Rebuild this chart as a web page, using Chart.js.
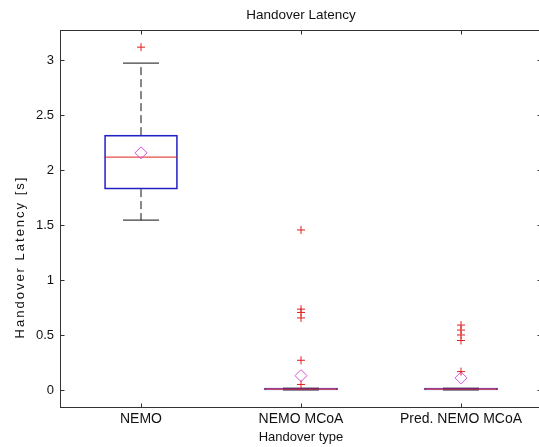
<!DOCTYPE html>
<html><head><meta charset="utf-8">
<script src="https://cdn.jsdelivr.net/npm/chart.js@4.4.1/dist/chart.umd.min.js"></script>
<style>
html,body{margin:0;padding:0;overflow:hidden;background:#fff;width:539px;height:447px}
#wrap{width:560px;height:447px;position:relative}
</style></head><body>
<div id="wrap"><canvas id="c" width="560" height="447"></canvas></div>
<script>
const categories = ['NEMO', 'NEMO MCoA', 'Pred. NEMO MCoA'];
const q1 = [1.827, 0.0, 0.0];
const median = [2.118, 0.008, 0.008];
const q3 = [2.318, 0.016, 0.016];
const whiskerLow = [1.545, 0.0, 0.0];
const whiskerHigh = [2.973, 0.016, 0.016];
const means = [2.157, 0.13, 0.11];
const outliers = [
  [3.118],
  [1.455, 0.735, 0.705, 0.655, 0.27, 0.05],
  [0.59, 0.545, 0.50, 0.45, 0.167]
];
const yTicks = [0, 0.5, 1, 1.5, 2, 2.5, 3];

const BLUE = '#2222c4', RED = '#e01e1e', MAG = '#d850d8', BLACK = '#111', AX = '#333';
const FAM = "'Liberation Sans', Arial, sans-serif";

const whiskerData = [];
categories.forEach((c, i) => {
  whiskerData.push({x: c, y: q3[i]}, {x: c, y: whiskerHigh[i]}, {x: c, y: null});
  whiskerData.push({x: c, y: q1[i]}, {x: c, y: whiskerLow[i]}, {x: c, y: null});
});
const capData = [];
categories.forEach((c, i) => { capData.push({x: c, y: whiskerLow[i]}, {x: c, y: whiskerHigh[i]}); });
const outlierData = [];
categories.forEach((c, i) => outliers[i].forEach(v => outlierData.push({x: c, y: v})));

const framePlugin = {
  id: 'frame',
  beforeDraw(chart) {
    const s = chart.scales.y;
    if (s && !s._lsPatched) {
      const orig = s.drawTitle.bind(s);
      s.drawTitle = function () {
        const c = this.ctx; c.save(); c.letterSpacing = '2px'; c.translate(0, 38); orig(); c.restore();
      };
      s._lsPatched = true;
    }
  },
  afterDatasetsDraw(chart) {
    const {ctx, chartArea: a, scales} = chart;
    ctx.save();
    ctx.strokeStyle = AX; ctx.lineWidth = 1;
    const L = Math.round(a.left) - 0.5, R = Math.round(a.right) + 0.5;
    const T = Math.round(a.top) - 0.5, B = Math.round(a.bottom) + 0.5;
    ctx.strokeRect(L, T, R - L, B - T);
    ctx.beginPath();
    yTicks.forEach(v => {
      const y = Math.round(scales.y.getPixelForValue(v)) + 0.5;
      ctx.moveTo(L, y); ctx.lineTo(L + 4, y);
      ctx.moveTo(R, y); ctx.lineTo(R - 4, y);
    });
    categories.forEach((c, i) => {
      const x = Math.round(scales.x.getPixelForValue(i)) + 0.5;
      ctx.moveTo(x, B); ctx.lineTo(x, B - 4);
      ctx.moveTo(x, T); ctx.lineTo(x, T + 4);
    });
    ctx.stroke();
    ctx.restore();
  }
};

new Chart(document.getElementById('c'), {
  type: 'bar',
  data: {
    labels: categories,
    datasets: [
      {
        type: 'line', label: 'outliers', data: outlierData, showLine: false,
        pointStyle: 'cross', pointRadius: 4, pointBorderColor: RED, pointBorderWidth: 1,
        pointBackgroundColor: RED, order: 0
      },
      {
        type: 'line', label: 'mean', data: categories.map((c, i) => ({x: c, y: means[i]})), showLine: false,
        pointStyle: 'rectRot', pointRadius: 6, pointBorderColor: MAG, pointBorderWidth: 1,
        pointBackgroundColor: 'rgba(0,0,0,0)', order: 1
      },
      {
        type: 'line', label: 'median', data: categories.map((c, i) => ({x: c, y: median[i]})), showLine: false,
        pointStyle: 'line', pointRadius: 36.5, pointBorderColor: RED, pointBorderWidth: 1, order: 2
      },
      {
        type: 'bar', label: 'box', data: categories.map((c, i) => [q1[i], q3[i]]),
        borderColor: BLUE, borderWidth: 1, backgroundColor: 'rgba(0,0,0,0)', borderSkipped: false,
        barThickness: 73, order: 3
      },
      {
        type: 'line', label: 'caps', data: capData, showLine: false,
        pointStyle: 'line', pointRadius: 18, pointBorderColor: BLACK, pointBorderWidth: 1, order: 4
      },
      {
        type: 'line', label: 'whiskers', data: whiskerData, spanGaps: false,
        borderColor: BLACK, borderWidth: 1, borderDash: [8, 4], pointRadius: 0, order: 5
      }
    ]
  },
  options: {
    responsive: false,
    animation: false,
    layout: {autoPadding: false, padding: {left: 0, right: 19, top: 0, bottom: 0}},
    plugins: {
      legend: {display: false},
      tooltip: {enabled: false},
      title: {
        display: true, fullSize: false, text: 'Handover Latency', color: '#111',
        font: {family: FAM, size: 13.5, weight: 'normal'},
        padding: {top: 7, bottom: 7.8}
      }
    },
    scales: {
      x: {
        type: 'category', offset: true,
        grid: {display: false, drawTicks: false}, border: {display: false},
        ticks: {color: '#111', font: {family: FAM, size: 14}, padding: 4, maxRotation: 0, autoSkip: false},
        title: {display: true, text: 'Handover type', color: '#111', font: {family: FAM, size: 13}, padding: {top: 0, bottom: 2}},
        afterFit: s => { s.height = 40; }
      },
      y: {
        type: 'linear', min: -0.155, max: 3.265,
        grid: {display: false, drawTicks: false}, border: {display: false},
        afterBuildTicks: s => { s.ticks = yTicks.map(v => ({value: v})); },
        ticks: {color: '#111', font: {family: FAM, size: 13}, padding: 7, callback: v => String(v)},
        title: {display: true, text: 'Handover Latency [s]', color: '#111', font: {family: FAM, size: 13}, padding: {top: 13, bottom: 0}},
        afterFit: s => { s.width = 61; }
      }
    }
  },
  plugins: [framePlugin]
});
</script>
</body></html>
